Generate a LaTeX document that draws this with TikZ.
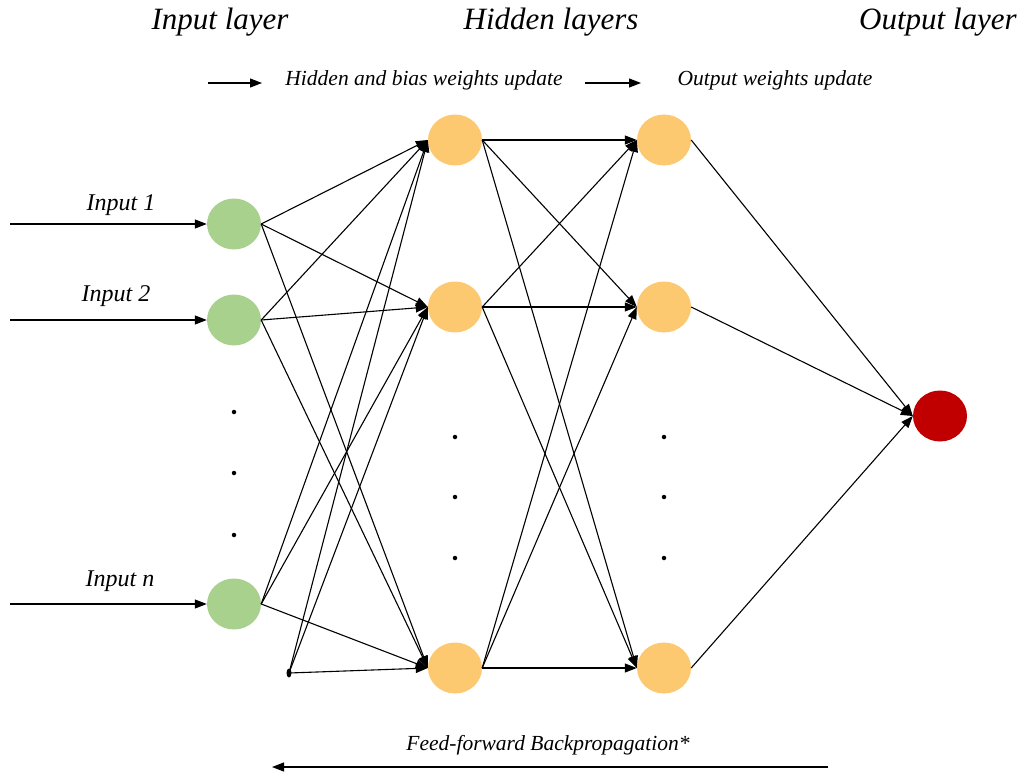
\documentclass[tikz,border=0pt]{standalone}
\usepackage{fontspec}
\setmainfont{Liberation Serif}
\usetikzlibrary{arrows.meta,shapes.geometric}
\definecolor{ingreen}{HTML}{A9D18E}
\definecolor{hidorange}{HTML}{FDC970}
\definecolor{outred}{HTML}{C00000}

\begin{document}
\begin{tikzpicture}[x=1pt,y=-1pt,
  neuron/.style={ellipse,minimum width=54pt,minimum height=51pt,inner sep=0pt},
  innode/.style={neuron,fill=ingreen},
  hidnode/.style={neuron,fill=hidorange},
  outnode/.style={neuron,fill=outred},
  vdot/.style={circle,fill=black,inner sep=0pt,minimum size=4.5pt},
  link/.style={line width=1.1pt,-{Triangle[length=12pt,width=9pt]}},
  headtxt/.style={font=\itshape\fontsize{31}{36}\selectfont},
  lbltxt/.style={font=\itshape\fontsize{24}{28}\selectfont},
  smalltxt/.style={font=\itshape\fontsize{21.5}{25}\selectfont}]
\useasboundingbox (0,0) rectangle (1027,773);

% layer titles
\node[headtxt] (tin) at (220,22) {Input layer};
\node[headtxt] (thid) at (551,22) {Hidden layers};
\node[headtxt] (tout) at (938,22) {Output layer};

% update notes
\coordinate (u1s) at (208,83);
\coordinate (u1e) at (262,83);
\coordinate (u2s) at (585,83);
\coordinate (u2e) at (641,83);
\draw[link] (u1s) -- (u1e);
\draw[link] (u2s) -- (u2e);
\node[smalltxt] (uhid) at (424,80) {Hidden and bias weights update};
\node[smalltxt] (uout) at (775,80) {Output weights update};

% neurons
\node[innode] (i1) at (234,224) {};
\node[innode] (i2) at (234,320) {};
\node[innode] (in) at (234,604) {};
\node[vdot,ellipse,minimum width=5pt,minimum height=9pt] (bias) at (289,673) {};
\node[hidnode] (h11) at (455,140) {};
\node[hidnode] (h12) at (455,307) {};
\node[hidnode] (h1n) at (455,668) {};
\node[hidnode] (h21) at (664,140) {};
\node[hidnode] (h22) at (664,307) {};
\node[hidnode] (h2n) at (664,668) {};
\node[outnode] (out) at (940,416) {};

% vertical dots
\foreach \y [count=\k] in {412,473,535}
  \node[vdot] (din\k) at (234,\y) {};
\foreach \y [count=\k] in {437,497,558} {
  \node[vdot] (dha\k) at (455,\y) {};
  \node[vdot] (dhb\k) at (664,\y) {};
}

% inputs
\coordinate (s1) at (10,224);
\coordinate (s2) at (10,320);
\coordinate (sn) at (10,604);
\draw[link] (s1) -- (i1.west);
\draw[link] (s2) -- (i2.west);
\draw[link] (sn) -- (in.west);
\node[lbltxt] (l1) at (121,205) {Input 1};
\node[lbltxt] (l2) at (116,296) {Input 2};
\node[lbltxt] (ln) at (120,581) {Input n};

% connections
\foreach \a in {i1,i2,in}
  \foreach \b in {h11,h12,h1n}
    \draw[link] (\a.east) -- (\b.west);
\foreach \b in {h11,h12,h1n}
  \draw[link] (bias.center) -- (\b.west);
\foreach \a in {h11,h12,h1n}
  \foreach \b in {h21,h22,h2n}
    \draw[link] (\a.east) -- (\b.west);
\foreach \a in {h21,h22,h2n}
  \draw[link] (\a.east) -- (out.west);

% backpropagation
\coordinate (bs) at (828,767);
\coordinate (be) at (272,767);
\draw[link] (bs) -- (be);
\node[smalltxt] (btxt) at (548,745) {Feed-forward Backpropagation*};
\end{tikzpicture}
\end{document}
